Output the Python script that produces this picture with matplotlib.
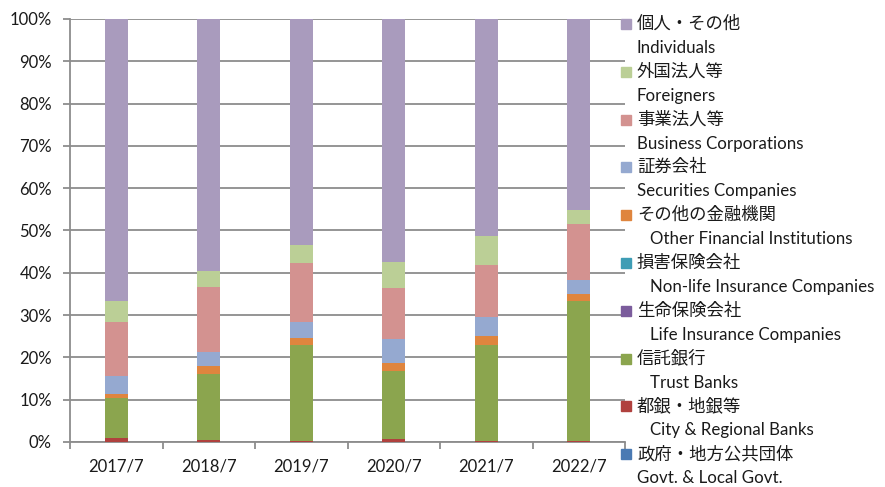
import numpy as np
import matplotlib
matplotlib.use("Agg")
import matplotlib.pyplot as plt
from matplotlib.patches import Rectangle

plt.rcParams['font.family'] = ['Lato', 'Noto Sans CJK JP', 'DejaVu Sans']

# data (% of shares)
periods = ["2017/7", "2018/7", "2019/7", "2020/7", "2021/7", "2022/7"]

govt       = [0.0, 0.0, 0.0, 0.0, 0.0, 0.0]
city_banks = [1.0, 0.55, 0.25, 0.7, 0.3, 0.3]
trust      = [9.5, 15.55, 22.65, 16.0, 22.6, 33.0]
life_ins   = [0.0, 0.0, 0.0, 0.0, 0.0, 0.0]
nonlife    = [0.0, 0.0, 0.0, 0.0, 0.0, 0.0]
other_fin  = [0.8, 1.9, 1.8, 2.0, 2.2, 1.6]
securities = [4.4, 3.3, 3.7, 5.6, 4.4, 3.3]
business   = [12.7, 15.3, 13.8, 12.2, 12.4, 13.3]
foreigners = [4.9, 3.8, 4.4, 6.1, 6.9, 3.3]
individ    = [66.7, 59.6, 53.4, 57.4, 51.2, 45.2]

series = [govt, city_banks, trust, life_ins, nonlife,
          other_fin, securities, business, foreigners, individ]
jp_names = ["政府・地方公共団体", "都銀・地銀等", "信託銀行", "生命保険会社",
            "損害保険会社", "その他の金融機関", "証券会社", "事業法人等",
            "外国法人等", "個人・その他"]
en_names = ["Govt. & Local Govt.", "City & Regional Banks", "Trust Banks",
            "Life Insurance Companies", "Non-life Insurance Companies",
            "Other Financial Institutions", "Securities Companies",
            "Business Corporations", "Foreigners", "Individuals"]
en_indent = [False, True, True, True, True, True, False, False, False, False]
colors = ["#4A7AB3", "#B0413E", "#8BA54E", "#7B5C9C", "#3E9DB5",
          "#DF853E", "#95A9D0", "#D39290", "#BBCF96", "#A99BBD"]

W, H = 885, 487
fig = plt.figure(figsize=(W / 100, H / 100), dpi=100)
ax = fig.add_axes([70 / W, 45 / H, 555 / W, 423 / H])

x = np.arange(len(periods))
bottom = np.zeros(len(periods))
for vals, c in zip(series, colors):
    vals = np.array(vals)
    ax.bar(x, vals, width=0.25, bottom=bottom, color=c, zorder=3)
    bottom += vals

ax.set_xlim(-0.5, len(periods) - 0.5)
ax.set_ylim(0, 100)
ax.set_yticks(np.arange(0, 101, 10))
ax.set_yticklabels([f"{v}%" for v in range(0, 101, 10)])
ax.set_xticks(x)
ax.set_xticklabels(periods)
ax.set_xticks(np.arange(-0.5, len(periods), 1), minor=True)

grid_c = "#8C8C8C"
ax.yaxis.grid(True, color=grid_c, lw=1.3, zorder=0)
for s in ["top", "right"]:
    ax.spines[s].set_visible(False)
for s in ["left", "bottom"]:
    ax.spines[s].set_color(grid_c)
    ax.spines[s].set_linewidth(1.3)
ax.tick_params(axis="y", length=5, width=1.3, color=grid_c, pad=8,
               labelsize=12, labelcolor="#1a1a1a")
ax.tick_params(axis="x", which="major", length=0, pad=12,
               labelsize=12, labelcolor="#1a1a1a")
ax.tick_params(axis="x", which="minor", length=5, width=1.3, color=grid_c)

# legend, drawn by hand: reversed order, JP line then EN line
for i, k in enumerate(range(len(series) - 1, -1, -1)):
    yj = 24 + 47.8 * i
    ye = 48 + 47.8 * i
    fig.add_artist(Rectangle((621 / W, 1 - (yj + 5) / H), 10 / W, 10 / H,
                             transform=fig.transFigure, color=colors[k]))
    fig.text(637 / W, 1 - yj / H, jp_names[k], fontsize=12.5,
             family=['Noto Sans CJK JP', 'DejaVu Sans'],
             va="center", ha="left", color="#1a1a1a")
    xe = 650 if en_indent[k] else 637
    fig.text(xe / W, 1 - ye / H, en_names[k], fontsize=12.2,
             va="center", ha="left", color="#1a1a1a")

fig.savefig("out.png", dpi=100)
